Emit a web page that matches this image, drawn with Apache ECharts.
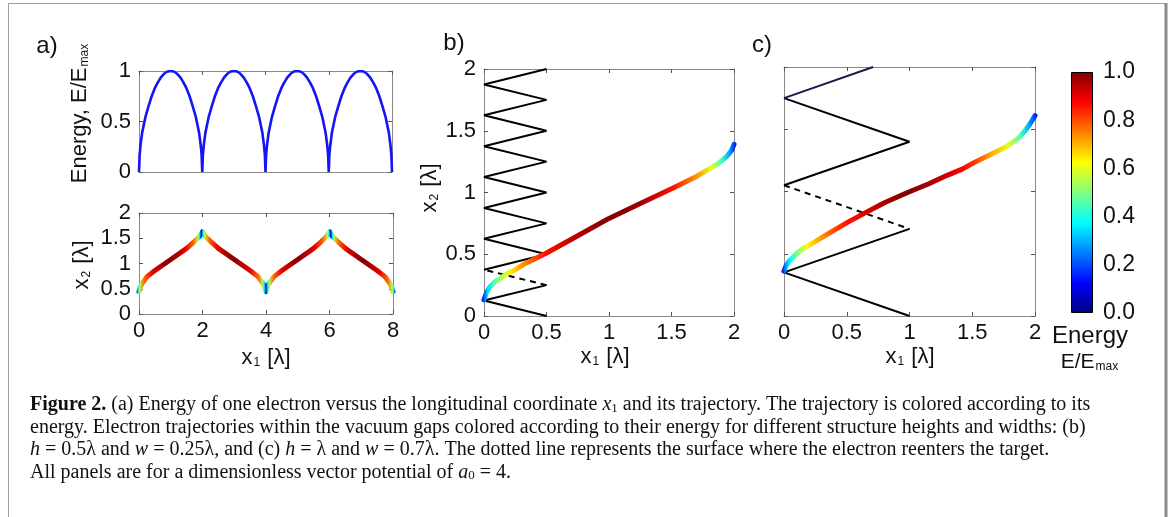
<!DOCTYPE html>
<html>
<head>
<meta charset="utf-8">
<script src="https://cdn.jsdelivr.net/npm/echarts@6/dist/echarts.min.js"></script>
<style>
  html, body { margin: 0; padding: 0; background: #fff; }
  #chart { width: 1171px; height: 517px; }
</style>
</head>
<body>
<div id="chart"></div>
<script>
// panel a (top): energy E/Emax vs x1
var energyPts = [
  [0,0],[0.02,0.17],[0.05,0.27],[0.1,0.39],[0.2,0.54],[0.3,0.65],[0.4,0.75],[0.5,0.83],[0.6,0.89],[0.7,0.94],[0.8,0.975],[0.9,0.995],
  [1,1],[1.1,0.995],[1.2,0.975],[1.3,0.94],[1.4,0.89],[1.5,0.83],[1.6,0.75],[1.7,0.65],[1.8,0.54],[1.9,0.39],[1.95,0.27],[1.98,0.17],
  [2,0],[2.02,0.17],[2.05,0.27],[2.1,0.39],[2.2,0.54],[2.3,0.65],[2.4,0.75],[2.5,0.83],[2.6,0.89],[2.7,0.94],[2.8,0.975],[2.9,0.995],
  [3,1],[3.1,0.995],[3.2,0.975],[3.3,0.94],[3.4,0.89],[3.5,0.83],[3.6,0.75],[3.7,0.65],[3.8,0.54],[3.9,0.39],[3.95,0.27],[3.98,0.17],
  [4,0],[4.02,0.17],[4.05,0.27],[4.1,0.39],[4.2,0.54],[4.3,0.65],[4.4,0.75],[4.5,0.83],[4.6,0.89],[4.7,0.94],[4.8,0.975],[4.9,0.995],
  [5,1],[5.1,0.995],[5.2,0.975],[5.3,0.94],[5.4,0.89],[5.5,0.83],[5.6,0.75],[5.7,0.65],[5.8,0.54],[5.9,0.39],[5.95,0.27],[5.98,0.17],
  [6,0],[6.02,0.17],[6.05,0.27],[6.1,0.39],[6.2,0.54],[6.3,0.65],[6.4,0.75],[6.5,0.83],[6.6,0.89],[6.7,0.94],[6.8,0.975],[6.9,0.995],
  [7,1],[7.1,0.995],[7.2,0.975],[7.3,0.94],[7.4,0.89],[7.5,0.83],[7.6,0.75],[7.7,0.65],[7.8,0.54],[7.9,0.39],[7.95,0.27],[7.98,0.17],
  [8,0]
];

// panel a (bottom): trajectory x2 vs x1, and the energy its colour shows
var trajAX = [0,0.05,0.1,0.25,0.5,1,1.5,1.75,1.9,1.95,2, 2.05,2.1,2.25,2.5,3,3.5,3.75,3.9,3.95,4,
              4.05,4.1,4.25,4.5,5,5.5,5.75,5.9,5.95,6, 6.05,6.1,6.25,6.5,7,7.5,7.75,7.9,7.95,8];
var trajAY = [0.44,0.55,0.61,0.74,0.86,1.08,1.3,1.44,1.53,1.58,1.63, 1.58,1.53,1.44,1.3,1.08,0.86,0.74,0.61,0.55,0.44,
              0.55,0.61,0.74,0.86,1.08,1.3,1.44,1.53,1.58,1.63, 1.58,1.53,1.44,1.3,1.08,0.86,0.74,0.61,0.55,0.44];
var trajAE = [0.05,0.35,0.55,0.78,0.9,1,0.9,0.78,0.55,0.35,0.05, 0.35,0.55,0.78,0.9,1,0.9,0.78,0.55,0.35,0.05,
              0.35,0.55,0.78,0.9,1,0.9,0.78,0.55,0.35,0.05, 0.35,0.55,0.78,0.9,1,0.9,0.78,0.55,0.35,0.05];

// panel b: structure surface (h = 0.5, w = 0.25) and trajectory
var surfB1 = [[0.5,0],[0,0.125],[0.5,0.25]];
var surfBDash = [[0.5,0.25],[0,0.375]];
var surfB2 = [[0,0.375],[0.5,0.5],[0,0.625],[0.5,0.75],[0,0.875],[0.5,1],[0,1.125],[0.5,1.25],[0,1.375],[0.5,1.5],[0,1.625],[0.5,1.75],[0,1.875],[0.5,2]];
var trajBX = [0,0.02,0.05,0.09,0.13,0.18,0.24,0.32,0.42,0.5,0.75,1,1.25,1.5,1.7,1.8,1.88,1.94,1.98,2];
var trajBY = [0.13,0.19,0.24,0.28,0.305,0.34,0.37,0.42,0.47,0.51,0.65,0.79,0.91,1.03,1.13,1.19,1.24,1.29,1.34,1.39];
var trajBE = [0.05,0.2,0.35,0.44,0.5,0.58,0.65,0.73,0.8,0.86,0.95,1,0.97,0.86,0.72,0.6,0.45,0.3,0.18,0.1];

// panel c: structure surface (h = 1, w = 0.7) and trajectory
var surfC1 = [[1,0],[0,0.35],[1,0.7]];
var surfCDash = [[0,1.05],[1,0.7]];
var surfC2 = [[0,1.05],[1,1.4],[0,1.75]];
var surfCTop = [[0,1.75],[0.71,2]];
var trajCX = [0,0.015,0.04,0.07,0.1,0.15,0.2,0.3,0.4,0.52,0.65,0.8,0.98,1.15,1.3,1.42,1.51,1.65,1.77,1.87,1.93,1.97,2];
var trajCY = [0.36,0.4,0.44,0.47,0.5,0.54,0.57,0.63,0.69,0.76,0.83,0.91,0.99,1.06,1.13,1.18,1.23,1.3,1.36,1.43,1.5,1.56,1.61];
var trajCE = [0.05,0.18,0.3,0.38,0.45,0.54,0.62,0.72,0.8,0.86,0.9,0.96,1,0.96,0.92,0.87,0.82,0.7,0.6,0.45,0.3,0.2,0.1];

// colour bar
var barTicks = [0, 0.2, 0.4, 0.6, 0.8, 1.0];

var SANS = 'Liberation Sans, Arial, sans-serif';
var SERIF = 'Liberation Serif, Times New Roman, serif';
var frame = '#8a8a8a';

function jet(v) {
  var c = function (t) { return Math.max(0, Math.min(1, t)); };
  var r = c(1.5 - Math.abs(4 * v - 3)), g = c(1.5 - Math.abs(4 * v - 2)), b = c(1.5 - Math.abs(4 * v - 1));
  return 'rgb(' + Math.round(r * 255) + ',' + Math.round(g * 255) + ',' + Math.round(b * 255) + ')';
}
function trajGradient(xs, es) {
  var x0 = xs[0], x1 = xs[xs.length - 1];
  return new echarts.graphic.LinearGradient(0, 0, 1, 0, xs.map(function (x, i) {
    return { offset: (x - x0) / (x1 - x0), color: jet(es[i]) };
  }));
}
function zip(xs, ys) { return xs.map(function (x, i) { return [x, ys[i]]; }); }

var xAxes = [], yAxes = [];
function addBox(g, xr, yr, showX, showY) {
  var tick = { show: true, inside: true, length: 4, lineStyle: { color: '#555' } };
  var line = { show: true, onZero: false, lineStyle: { color: frame, width: 1 } };
  var lab = function (show) { return { show: show, margin: 6, color: '#111', fontSize: 22, fontFamily: SANS }; };
  xAxes.push({ type: 'value', gridIndex: g, position: 'bottom', min: xr[0], max: xr[1], interval: xr[2],
    axisLine: line, axisTick: tick, axisLabel: lab(showX), splitLine: { show: false } });
  xAxes.push({ type: 'value', gridIndex: g, position: 'top', min: xr[0], max: xr[1], interval: xr[2],
    axisLine: line, axisTick: tick, axisLabel: { show: false }, splitLine: { show: false } });
  var yl = lab(showY); yl.margin = 8;
  yAxes.push({ type: 'value', gridIndex: g, position: 'left', min: yr[0], max: yr[1], interval: yr[2],
    axisLine: line, axisTick: tick, axisLabel: yl, splitLine: { show: false } });
  yAxes.push({ type: 'value', gridIndex: g, position: 'right', min: yr[0], max: yr[1], interval: yr[2],
    axisLine: line, axisTick: tick, axisLabel: { show: false }, splitLine: { show: false } });
  return xAxes.length - 2;
}

var grids = [
  { left: 139, top: 71, width: 253, height: 101 },
  { left: 139, top: 213, width: 254, height: 101 },
  { left: 484, top: 69, width: 250, height: 247 },
  { left: 784, top: 67, width: 251, height: 249 },
  { left: 1071, top: 72, width: 22, height: 241 }
];
var ga = addBox(0, [0, 8, 2], [0, 1, 0.5], false, true);
var gb = addBox(1, [0, 8, 2], [0, 2, 0.5], true, true);
var gc = addBox(2, [0, 2, 0.5], [0, 2, 0.5], true, true);
var gd = addBox(3, [0, 2, 0.5], [0, 2, 0.5], true, false);

// colour bar axes
xAxes.push({ type: 'category', gridIndex: 4, data: ['E'], show: false });
yAxes.push({ type: 'value', gridIndex: 4, position: 'right', min: 0, max: 1, interval: 0.2,
  axisLine: { show: false }, axisTick: { show: false }, splitLine: { show: false },
  axisLabel: { margin: 10, color: '#111', fontSize: 23, fontFamily: SANS, formatter: function (v) { return v.toFixed(1); } } });
var gBar = xAxes.length - 1;

function blackLine(ax, data, dashed, color) {
  return { type: 'line', xAxisIndex: ax, yAxisIndex: ax, data: data, showSymbol: false, silent: true,
    lineStyle: { color: color || '#000', width: 2, type: dashed ? [6, 5] : 'solid' } };
}
function trajLine(ax, xs, ys, es, w) {
  return { type: 'line', xAxisIndex: ax, yAxisIndex: ax, data: zip(xs, ys), showSymbol: false, silent: true, z: 3,
    lineStyle: { color: trajGradient(xs, es), width: w, cap: 'round', join: 'round' } };
}

var stops = [0, 0.125, 0.25, 0.375, 0.5, 0.625, 0.75, 0.875, 1].map(function (t) { return { offset: t, color: jet(t) }; });

var series = [
  { type: 'line', xAxisIndex: ga, yAxisIndex: ga, data: energyPts, showSymbol: false, silent: true,
    lineStyle: { color: '#1414f5', width: 2.6 } },
  trajLine(gb, trajAX, trajAY, trajAE, 5),
  blackLine(gc, surfB1), blackLine(gc, surfBDash, true), blackLine(gc, surfB2),
  trajLine(gc, trajBX, trajBY, trajBE, 5),
  blackLine(gd, surfC1), blackLine(gd, surfCDash, true), blackLine(gd, surfC2), blackLine(gd, surfCTop, false, '#1c1c4a'),
  trajLine(gd, trajCX, trajCY, trajCE, 5),
  { type: 'bar', xAxisIndex: gBar, yAxisIndex: gBar, data: [barTicks[barTicks.length - 1]], barWidth: '100%', silent: true,
    itemStyle: { color: new echarts.graphic.LinearGradient(0, 1, 0, 0, stops), borderColor: '#000', borderWidth: 1 } }
];

function txt(x, y, text, size, extra) {
  var el = { type: 'text', x: x, y: y, silent: true,
    style: { text: text, fontSize: size, fontFamily: SANS, fill: '#111', align: 'center', verticalAlign: 'middle' } };
  if (extra) { for (var k in extra) { if (k === 'style') { for (var s in extra.style) el.style[s] = extra.style[s]; } else el[k] = extra[k]; } }
  return el;
}
var subRich = function (size) {
  return { n: { fontSize: size, fontFamily: SANS, fill: '#111' },
           s: { fontSize: Math.round(size * 0.55), fontFamily: SANS, fill: '#111', verticalAlign: 'bottom', padding: [0, 1, 0, 1] } };
};
var capRich = {
  b: { fontFamily: SERIF, fontSize: 20, fontWeight: 'bold', fill: '#111' },
  i: { fontFamily: SERIF, fontSize: 20, fontStyle: 'italic', fill: '#111' },
  sub: { fontFamily: SERIF, fontSize: 13, fill: '#111', verticalAlign: 'bottom' }
};
var capLines = [
  '{b|Figure 2.} (a) Energy of one electron versus the longitudinal coordinate {i|x}{sub|1} and its trajectory. The trajectory is colored according to its',
  'energy. Electron trajectories within the vacuum gaps colored according to their energy for different structure heights and widths: (b)',
  '{i|h} = 0.5λ and {i|w} = 0.25λ, and (c) {i|h} = λ and {i|w} = 0.7λ. The dotted line represents the surface where the electron reenters the target.',
  'All panels are for a dimensionless vector potential of {i|a}{sub|0} = 4.'
];
var capY = [405, 427.5, 450, 472.5];

var graphics = [
  { type: 'rect', silent: true, shape: { x: 8.5, y: 3.5, width: 1157, height: 560 }, style: { fill: 'none', stroke: '#a0a0a0', lineWidth: 1 } },
  { type: 'line', silent: true, shape: { x1: 1166, y1: 3, x2: 1166, y2: 517 }, style: { stroke: '#8a8a8a', lineWidth: 3 } },
  txt(47, 46, 'a)', 24), txt(454, 43, 'b)', 24), txt(762, 45, 'c)', 24),
  txt(80, 113, '{n|Energy, E/E}{s|max}', 22, { rotation: Math.PI / 2, style: { rich: subRich(22) } }),
  txt(82, 265, '{n|x}{s|2}{n| [λ]}', 22, { rotation: Math.PI / 2, style: { rich: subRich(22) } }),
  txt(266, 358, '{n|x}{s|1}{n| [λ]}', 22, { style: { rich: subRich(22) } }),
  txt(430, 188, '{n|x}{s|2}{n| [λ]}', 22, { rotation: Math.PI / 2, style: { rich: subRich(22) } }),
  txt(605, 357, '{n|x}{s|1}{n| [λ]}', 22, { style: { rich: subRich(22) } }),
  txt(910, 357, '{n|x}{s|1}{n| [λ]}', 22, { style: { rich: subRich(22) } }),
  txt(1090, 336, 'Energy', 24),
  txt(1090, 362, '{n|E/E}{s|max}', 21, { style: { rich: subRich(21) } })
];
capLines.forEach(function (line, i) {
  graphics.push({ type: 'text', x: 30, y: capY[i], silent: true,
    style: { text: line, rich: capRich, fontFamily: SERIF, fontSize: 20, fill: '#111', align: 'left', verticalAlign: 'middle' } });
});

var chart = echarts.init(document.getElementById('chart'));
chart.setOption({
  animation: false,
  backgroundColor: '#fff',
  grid: grids,
  xAxis: xAxes,
  yAxis: yAxes,
  series: series,
  graphic: graphics
});
</script>
</body>
</html>
